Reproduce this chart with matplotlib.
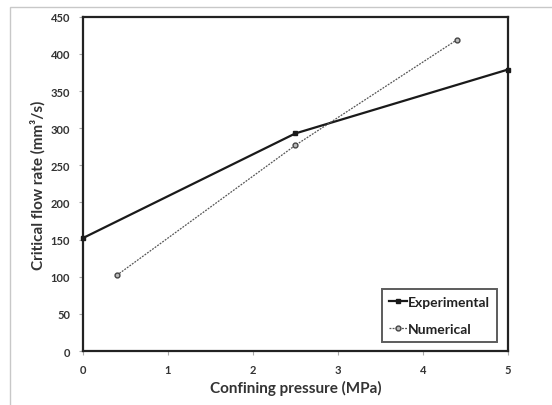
import matplotlib
matplotlib.use('Agg')
import matplotlib.pyplot as plt
from matplotlib.patches import Rectangle

plt.rcParams['font.family'] = ['Lato', 'DejaVu Sans']

exp_x = [0, 2.5, 5]
exp_y = [152, 293, 379]
num_x = [0.4, 2.5, 4.4]
num_y = [102, 277, 419]

fig = plt.figure(figsize=(5.52, 4.06), dpi=100)
ax = fig.add_axes([0.150, 0.133, 0.770, 0.823])

# light frame around the whole picture
fig.patches.append(Rectangle((10 / 552, -0.1), 1.2, (406 - 8) / 406 + 0.1,
                             transform=fig.transFigure, fill=False,
                             edgecolor='#c8c8c8', linewidth=1))

ax.plot(exp_x, exp_y, color='#1a1a1a', linewidth=1.6, marker='s', markersize=3.5,
        label='Experimental', clip_on=False, zorder=3)
ax.plot(num_x, num_y, color='#555555', linewidth=0.9, linestyle=(0, (1.5, 1)),
        marker='o', markersize=3.5, markerfacecolor='#bbbbbb', markeredgecolor='#444444',
        label='Numerical', clip_on=False, zorder=3)

ax.set_xlim(0, 5)
ax.set_ylim(0, 450)
ax.set_xticks(range(0, 6))
ax.set_yticks(range(0, 451, 50))
for s in ax.spines.values():
    s.set_linewidth(1.6)
    s.set_color('#222222')
ax.tick_params(direction='out', length=3, width=0.8, color='#aaaaaa',
               labelsize=8, labelcolor='#333333', pad=6)
for lab in ax.get_xticklabels() + ax.get_yticklabels():
    lab.set_fontweight('bold')

ax.set_xlabel('Confining pressure (MPa)', fontsize=11, fontweight='bold', color='#333333')
ax.set_ylabel('Critical flow rate (mm³/s)', fontsize=11, fontweight='bold', color='#333333')

leg = ax.legend(loc='lower right', bbox_to_anchor=(0.985, 0.015), fancybox=False,
                edgecolor='#333333', fontsize=10, handlelength=1.3, handletextpad=0.1,
                borderpad=0.5, labelspacing=1.1, borderaxespad=0.3)
leg.get_frame().set_linewidth(1.4)
for t in leg.get_texts():
    t.set_fontweight('bold')
    t.set_color('#222222')

fig.savefig('out.png', dpi=100)
